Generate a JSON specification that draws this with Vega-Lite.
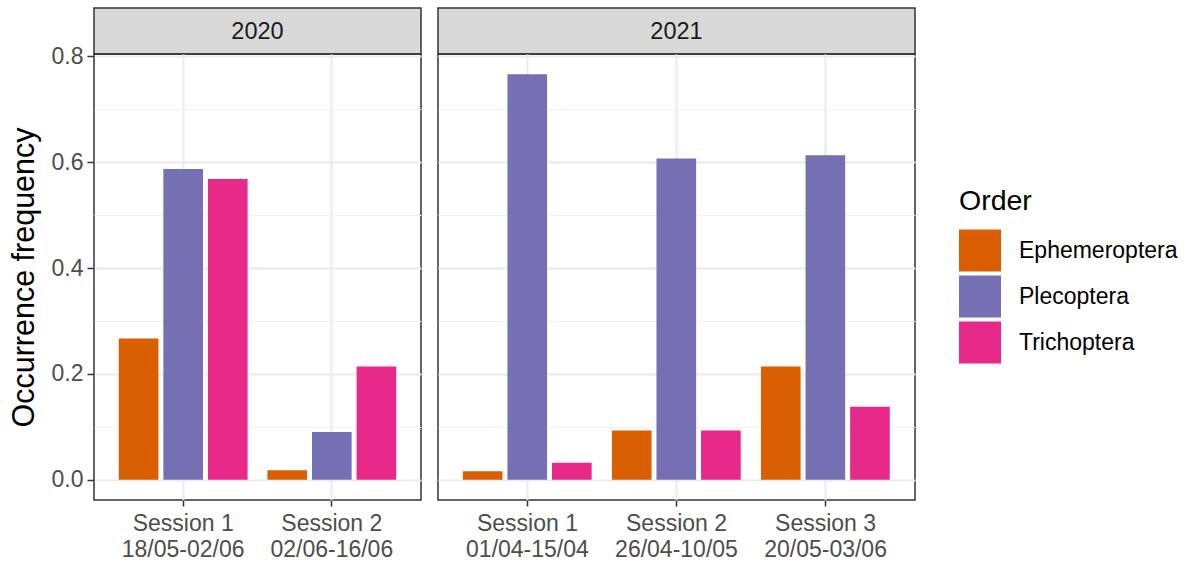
{
  "$schema": "https://vega.github.io/schema/vega-lite/v6.json",
  "padding": {"left": 8, "top": 7, "right": 0, "bottom": 0},
  "background": "white",
  "config": {
    "font": "Liberation Sans",
    "view": {"stroke": "#333333", "strokeWidth": 1.5},
    "axis": {"labelFont": "Liberation Sans", "titleFont": "Liberation Sans"},
    "legend": {"labelFont": "Liberation Sans", "titleFont": "Liberation Sans"}
  },
  "datasets": {
    "freq": [
      {"year": "2020", "session": "Session 1\u00a0|\u00a018/05-02/06", "order": "Ephemeroptera", "freq": 0.267},
      {"year": "2020", "session": "Session 1\u00a0|\u00a018/05-02/06", "order": "Plecoptera", "freq": 0.587},
      {"year": "2020", "session": "Session 1\u00a0|\u00a018/05-02/06", "order": "Trichoptera", "freq": 0.568},
      {"year": "2020", "session": "Session 2\u00a0|\u00a002/06-16/06", "order": "Ephemeroptera", "freq": 0.018},
      {"year": "2020", "session": "Session 2\u00a0|\u00a002/06-16/06", "order": "Plecoptera", "freq": 0.090},
      {"year": "2020", "session": "Session 2\u00a0|\u00a002/06-16/06", "order": "Trichoptera", "freq": 0.214},
      {"year": "2021", "session": "Session 1\u00a0|\u00a001/04-15/04", "order": "Ephemeroptera", "freq": 0.016},
      {"year": "2021", "session": "Session 1\u00a0|\u00a001/04-15/04", "order": "Plecoptera", "freq": 0.766},
      {"year": "2021", "session": "Session 1\u00a0|\u00a001/04-15/04", "order": "Trichoptera", "freq": 0.032},
      {"year": "2021", "session": "Session 2\u00a0|\u00a026/04-10/05", "order": "Ephemeroptera", "freq": 0.093},
      {"year": "2021", "session": "Session 2\u00a0|\u00a026/04-10/05", "order": "Plecoptera", "freq": 0.607},
      {"year": "2021", "session": "Session 2\u00a0|\u00a026/04-10/05", "order": "Trichoptera", "freq": 0.093},
      {"year": "2021", "session": "Session 3\u00a0|\u00a020/05-03/06", "order": "Ephemeroptera", "freq": 0.214},
      {"year": "2021", "session": "Session 3\u00a0|\u00a020/05-03/06", "order": "Plecoptera", "freq": 0.613},
      {"year": "2021", "session": "Session 3\u00a0|\u00a020/05-03/06", "order": "Trichoptera", "freq": 0.138}
    ]
  },
  "spacing": 15,
  "hconcat": [
    {
      "spacing": 0,
      "bounds": "flush",
      "vconcat": [
        {
          "width": 327,
          "height": 46,
          "data": {"values": [{"year": "2020"}]},
          "view": {"fill": "#D9D9D9", "stroke": "#333333", "strokeWidth": 1.5},
          "mark": {"type": "text", "fontSize": 23.5, "color": "#1A1A1A", "dy": 1},
          "encoding": {"text": {"field": "year", "type": "nominal"}}
        },
        {
          "width": 327,
          "height": 446,
          "data": {"name": "freq"},
          "transform": [{"filter": "datum.year == '2020'"}],
          "mark": {"type": "bar"},
          "encoding": {
            "x": {
              "field": "session", "type": "nominal", "sort": null,
              "scale": {"paddingInner": 0.1, "paddingOuter": 0.15},
              "axis": {
                "title": null, "labelAngle": 0, "labelExpr": "split(datum.label, '|')",
                "labelFontSize": 23, "labelColor": "#4D4D4D", "labelLineHeight": 26,
                "labelPadding": 6, "tickSize": 6, "tickColor": "#333333", "tickWidth": 1.5,
                "domain": false, "grid": true, "gridColor": "#EBEBEB", "gridWidth": 2
              }
            },
            "xOffset": {
              "field": "order", "type": "nominal",
              "scale": {"paddingInner": 0.111, "paddingOuter": 0.0556}
            },
            "y": {
              "field": "freq", "type": "quantitative",
              "scale": {"domain": [-0.0383, 0.8043], "nice": false, "zero": false},
              "axis": {
                "values": [0, 0.1, 0.2, 0.3, 0.4, 0.5, 0.6, 0.7, 0.8],
                "labelExpr": "round(datum.value*10) % 2 == 0 ? format(datum.value, '.1f') : ''",
                "labelOverlap": false,
                "labelFontSize": 23, "labelColor": "#4D4D4D", "labelPadding": 4,
                "tickSize": 7, "tickColor": "#333333", "tickWidth": 1.5,
                "tickOpacity": {"condition": {"test": "round(datum.value*10) % 2 == 1", "value": 0}, "value": 1},
                "domain": false, "grid": true,
                "gridColor": {"condition": {"test": "round(datum.value*10) % 2 == 1", "value": "#F2F2F2"}, "value": "#EBEBEB"},
                "gridWidth": {"condition": {"test": "round(datum.value*10) % 2 == 1", "value": 1}, "value": 2},
                "title": "Occurrence frequency", "titleFontSize": 30.5, "titleFontWeight": "normal",
                "titleColor": "#000000", "titlePadding": 12
              }
            },
            "y2": {"datum": 0},
            "color": {
              "field": "order", "type": "nominal",
              "scale": {"domain": ["Ephemeroptera", "Plecoptera", "Trichoptera"], "range": ["#D95F02", "#7570B3", "#E7298A"]},
              "legend": {
                "title": "Order", "orient": "none", "legendX": 865, "legendY": 179,
                "titleFontSize": 28.5, "titleFontWeight": "normal", "titleColor": "#000000", "titlePadding": 14,
                "labelFontSize": 23, "labelColor": "#000000", "labelOffset": 18,
                "symbolType": "square", "symbolSize": 1764, "symbolStrokeWidth": 0, "symbolOpacity": 1,
                "rowPadding": 4, "padding": 0
              }
            }
          }
        }
      ]
    },
    {
      "spacing": 0,
      "bounds": "flush",
      "vconcat": [
        {
          "width": 477,
          "height": 46,
          "data": {"values": [{"year": "2021"}]},
          "view": {"fill": "#D9D9D9", "stroke": "#333333", "strokeWidth": 1.5},
          "mark": {"type": "text", "fontSize": 23.5, "color": "#1A1A1A", "dy": 1},
          "encoding": {"text": {"field": "year", "type": "nominal"}}
        },
        {
          "width": 477,
          "height": 446,
          "data": {"name": "freq"},
          "transform": [{"filter": "datum.year == '2021'"}],
          "mark": {"type": "bar"},
          "encoding": {
            "x": {
              "field": "session", "type": "nominal", "sort": null,
              "scale": {"paddingInner": 0.1, "paddingOuter": 0.15},
              "axis": {
                "title": null, "labelAngle": 0, "labelExpr": "split(datum.label, '|')",
                "labelFontSize": 23, "labelColor": "#4D4D4D", "labelLineHeight": 26,
                "labelPadding": 6, "tickSize": 6, "tickColor": "#333333", "tickWidth": 1.5,
                "domain": false, "grid": true, "gridColor": "#EBEBEB", "gridWidth": 2
              }
            },
            "xOffset": {
              "field": "order", "type": "nominal",
              "scale": {"paddingInner": 0.111, "paddingOuter": 0.0556}
            },
            "y": {
              "field": "freq", "type": "quantitative",
              "scale": {"domain": [-0.0383, 0.8043], "nice": false, "zero": false},
              "axis": {
                "values": [0, 0.1, 0.2, 0.3, 0.4, 0.5, 0.6, 0.7, 0.8],
                "labels": false, "ticks": false, "domain": false, "title": null, "grid": true,
                "gridColor": {"condition": {"test": "round(datum.value*10) % 2 == 1", "value": "#F2F2F2"}, "value": "#EBEBEB"},
                "gridWidth": {"condition": {"test": "round(datum.value*10) % 2 == 1", "value": 1}, "value": 2}
              }
            },
            "y2": {"datum": 0},
            "color": {
              "field": "order", "type": "nominal",
              "scale": {"domain": ["Ephemeroptera", "Plecoptera", "Trichoptera"], "range": ["#D95F02", "#7570B3", "#E7298A"]},
              "legend": {
                "title": "Order", "orient": "none", "legendX": 865, "legendY": 179,
                "titleFontSize": 28.5, "titleFontWeight": "normal", "titleColor": "#000000", "titlePadding": 14,
                "labelFontSize": 23, "labelColor": "#000000", "labelOffset": 18,
                "symbolType": "square", "symbolSize": 1764, "symbolStrokeWidth": 0, "symbolOpacity": 1,
                "rowPadding": 4, "padding": 0
              }
            }
          }
        }
      ]
    }
  ]
}
